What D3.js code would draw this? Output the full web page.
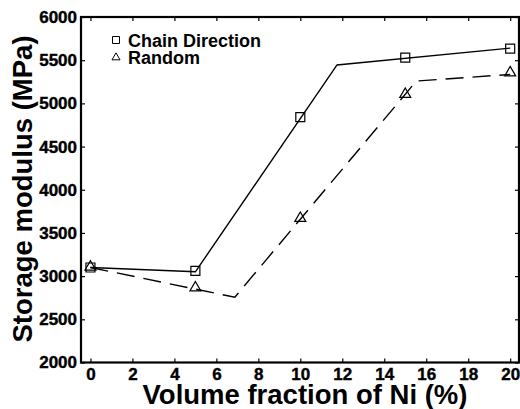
<!DOCTYPE html>
<html>
<head>
<meta charset="utf-8">
<script src="https://d3js.org/d3.v7.min.js"></script>
<style>
  body { margin: 0; background: #fff; }
  svg { display: block; }
  text { font-family: "Liberation Sans", Arial, sans-serif; font-weight: bold; fill: #000; }
</style>
</head>
<body>
<script>
// measured points
var volumeFraction = [0, 5, 10, 15, 20];
var chainModulus = [3100, 3060, 4840, 5530, 5635];
var randomModulus = [3105, 2865, 3670, 5105, 5355];

// fitted lines drawn through the points
var chainFitX = [0, 5, 11.75, 20];
var chainFitY = [3100, 3050, 5445, 5640];
var randomFitX = [0, 6.88, 15.53, 20];
var randomFitY = [3100, 2756, 5259, 5335];

var xTicks = [0, 2, 4, 6, 8, 10, 12, 14, 16, 18, 20];
var yTicks = [2000, 2500, 3000, 3500, 4000, 4500, 5000, 5500, 6000];
var seriesNames = ["Chain Direction", "Random"];

var width = 520, height = 409;
var plot = {left: 81, right: 519, top: 17, bottom: 362.5};

var svg = d3.select("body").append("svg")
    .attr("width", width)
    .attr("height", height);

var x = d3.scaleLinear().domain([-0.45, 20.42]).range([plot.left, plot.right]);
var y = d3.scaleLinear().domain([2000, 6000]).range([plot.bottom, plot.top]);

// axes, ticks pointing inwards
svg.append("g")
    .attr("transform", "translate(0," + plot.bottom + ")")
    .call(d3.axisBottom(x).tickValues(xTicks).tickSizeInner(-4).tickSizeOuter(0).tickPadding(5.5));
svg.append("g")
    .attr("transform", "translate(" + plot.left + ",0)")
    .call(d3.axisLeft(y).tickValues(yTicks).tickFormat(d3.format("d")).tickSizeInner(-4).tickSizeOuter(0).tickPadding(4));
svg.append("g")
    .attr("transform", "translate(0," + plot.top + ")")
    .call(d3.axisTop(x).tickValues(xTicks).tickSizeInner(-4).tickSizeOuter(0).tickFormat(""));
svg.append("g")
    .attr("transform", "translate(" + plot.right + ",0)")
    .call(d3.axisRight(y).tickValues(yTicks).tickSizeInner(-4).tickSizeOuter(0).tickFormat(""));

svg.selectAll(".domain").remove();
svg.selectAll(".tick line").attr("stroke", "#000").attr("stroke-width", 1.2);
svg.selectAll(".tick text")
    .style("font-family", "'Liberation Sans', Arial, sans-serif")
    .style("font-weight", "700")
    .style("font-size", "17px")
    .attr("stroke", "#000")
    .attr("stroke-width", 0.4);

// frame
svg.append("rect")
    .attr("x", plot.left)
    .attr("y", plot.top)
    .attr("width", plot.right - plot.left)
    .attr("height", plot.bottom - plot.top)
    .attr("fill", "none")
    .attr("stroke", "#000")
    .attr("stroke-width", 2.2);

// fitted lines
var line = d3.line()
    .x(function(d) { return x(d[0]); })
    .y(function(d) { return y(d[1]); });

svg.append("path")
    .datum(d3.zip(chainFitX, chainFitY))
    .attr("d", line)
    .attr("fill", "none")
    .attr("stroke", "#000")
    .attr("stroke-width", 1.4);

svg.append("path")
    .datum(d3.zip(randomFitX, randomFitY))
    .attr("d", line)
    .attr("fill", "none")
    .attr("stroke", "#000")
    .attr("stroke-width", 1.4)
    .attr("stroke-dasharray", "18,9");

// markers
var square = d3.symbol().type(d3.symbolSquare).size(81);
var triangle = d3.symbol().type(d3.symbolTriangle).size(52);

svg.append("g").selectAll("path")
    .data(d3.zip(volumeFraction, chainModulus))
    .enter().append("path")
    .attr("d", square)
    .attr("transform", function(d) { return "translate(" + x(d[0]) + "," + y(d[1]) + ")"; })
    .attr("fill", "none")
    .attr("stroke", "#000")
    .attr("stroke-width", 1.2);

svg.append("g").selectAll("path")
    .data(d3.zip(volumeFraction, randomModulus))
    .enter().append("path")
    .attr("d", triangle)
    .attr("transform", function(d) { return "translate(" + x(d[0]) + "," + y(d[1]) + ")"; })
    .attr("fill", "none")
    .attr("stroke", "#000")
    .attr("stroke-width", 1.2);

// legend
var legend = svg.append("g");
var legendSymbols = [d3.symbol().type(d3.symbolSquare).size(49), d3.symbol().type(d3.symbolTriangle).size(28)];
legend.selectAll("path")
    .data(seriesNames)
    .enter().append("path")
    .attr("d", function(d, i) { return legendSymbols[i](); })
    .attr("transform", function(d, i) { return "translate(116," + (40 + i * 17.5) + ")"; })
    .attr("fill", "none")
    .attr("stroke", "#000")
    .attr("stroke-width", 1);
legend.selectAll("text")
    .data(seriesNames)
    .enter().append("text")
    .attr("x", 128)
    .attr("y", function(d, i) { return 46.5 + i * 17.5; })
    .style("font-size", "18px")
    .text(function(d) { return d; });

// axis titles
svg.append("text")
    .attr("x", 305)
    .attr("y", 404)
    .attr("text-anchor", "middle")
    .style("font-size", "27.5px")
    .text("Volume fraction of Ni (%)");

svg.append("text")
    .attr("transform", "translate(32,189) rotate(-90)")
    .attr("text-anchor", "middle")
    .style("font-size", "27.5px")
    .text("Storage modulus (MPa)");
</script>
</body>
</html>
